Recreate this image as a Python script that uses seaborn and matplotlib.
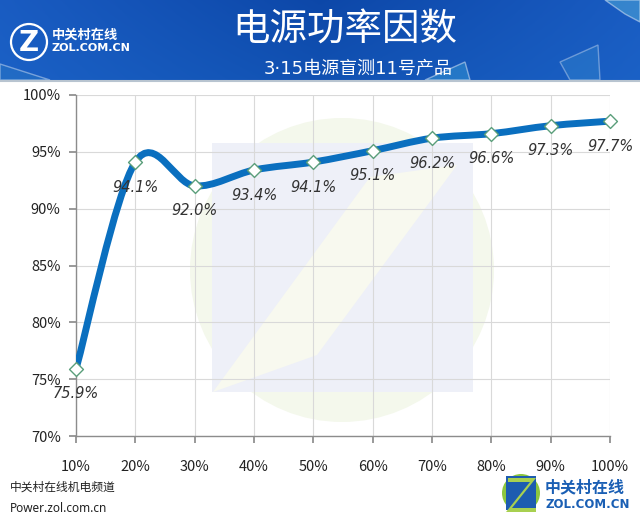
import numpy as np
import pandas as pd
import matplotlib
matplotlib.use("Agg")
import matplotlib.pyplot as plt
import seaborn as sns
from matplotlib.path import Path
from matplotlib.patches import PathPatch, Polygon, Circle, Rectangle

# ---- data ----
loads = [10, 20, 30, 40, 50, 60, 70, 80, 90, 100]
load_labels = ["10%", "20%", "30%", "40%", "50%", "60%", "70%", "80%", "90%", "100%"]
pf = [75.9, 94.1, 92.0, 93.4, 94.1, 95.1, 96.2, 96.6, 97.3, 97.7]
pf_labels = ["75.9%", "94.1%", "92.0%", "93.4%", "94.1%", "95.1%", "96.2%", "96.6%", "97.3%", "97.7%"]
y_ticks = [70, 75, 80, 85, 90, 95, 100]
y_tick_labels = ["70%", "75%", "80%", "85%", "90%", "95%", "100%"]
title = "电源功率因数"
subtitle = "3·15电源盲测11号产品"

sns.set_theme(style="white")
plt.rcParams['font.family'] = ['Noto Sans CJK SC', 'DejaVu Sans']

W, H = 640, 523
fig = plt.figure(figsize=(W / 100, H / 100), dpi=100)
fig.patch.set_facecolor("white")

def fx(px):
    return px / W

def fy(py):
    return 1 - py / H

# ---- background watermark ----
bg = fig.add_axes([0, 0, 1, 1], zorder=0)
bg.set_xlim(0, W)
bg.set_ylim(H, 0)
bg.axis("off")
bg.add_patch(Circle((342, 270), 152, facecolor="#f4f8ec", edgecolor="none"))
bg.add_patch(Rectangle((212, 143), 261, 249, facecolor="#eef0f8", edgecolor="none"))
bg.add_patch(Polygon([(370, 177), (457, 165), (317, 355), (213, 392)],
                     closed=True, facecolor="#f8f9ef", edgecolor="none"))

# ---- header banner ----
grad = np.linspace(0, 1, 256)
gx, gy = np.meshgrid(grad, np.linspace(0, 1, 64))
c1 = np.array([0.10, 0.36, 0.76])
c2 = np.array([0.05, 0.28, 0.66])
c3 = np.array([0.12, 0.44, 0.82])
t = np.abs(gx - 0.5) * 2
img = c2[None, None, :] * (1 - t[..., None]) + c1[None, None, :] * t[..., None]
img = img * (1 - 0.25 * gy[..., None]) + c3[None, None, :] * 0.25 * gy[..., None]
bg.imshow(img, extent=[0, W, 80, 0], aspect="auto", zorder=1)
bg.add_patch(Polygon([(425, 80), (465, 62), (470, 80)], closed=True, facecolor="#3aa0d8", alpha=0.45, zorder=2))
bg.add_patch(Polygon([(560, 62), (598, 45), (600, 80), (570, 80)], closed=True, facecolor="#3a8fd0", alpha=0.35, zorder=2))
bg.add_patch(Polygon([(605, 0), (640, 0), (640, 22), (625, 14)], closed=True, facecolor="#5ab8dc", alpha=0.45, zorder=2))
bg.add_patch(Polygon([(0, 64), (50, 80), (0, 80)], closed=True, facecolor="#2d7cc4", alpha=0.4, zorder=2))
bg.plot([0, W], [81, 81], color="#b8c4d0", lw=1.5, zorder=2)
# top-left logo
bg.add_patch(Circle((29, 42), 18, facecolor="none", edgecolor="white", lw=1.6, zorder=3))
bg.text(29, 43, "Z", color="white", fontsize=20, fontweight="bold", ha="center", va="center",
        family=["DejaVu Sans"], zorder=4)
bg.text(52, 35, "中关村在线", color="white", fontsize=9.5, fontweight="bold", ha="left", va="center", zorder=4)
bg.text(52, 48, "ZOL.COM.CN", color="white", fontsize=8, fontweight="bold", ha="left", va="center",
        family=["DejaVu Sans"], zorder=4)
bg.text(345, 30, title, color="white", fontsize=27, ha="center", va="center", zorder=4)
bg.text(358, 68, subtitle, color="white", fontsize=13, ha="center", va="center",
        family=["DejaVu Sans", "Noto Sans CJK SC"], zorder=4)

# ---- footer ----
bg.text(10, 487, "中关村在线机电频道", color="#222222", fontsize=8.5, ha="left", va="center")
bg.text(10, 508, "Power.zol.com.cn", color="#222222", fontsize=8.5, ha="left", va="center",
        family=["Noto Sans", "DejaVu Sans"])
bg.add_patch(Circle((521, 493), 19, facecolor="#8cc63f", edgecolor="none"))
bg.add_patch(Rectangle((506, 476), 30, 34, facecolor="#1d5cb0", edgecolor="none"))
bg.add_patch(Polygon([(508, 478), (536, 478), (512, 508), (536, 508), (536, 512), (506, 512), (530, 482), (508, 482)],
                     closed=True, facecolor="#a8d050", edgecolor="none"))
bg.text(545, 487, "中关村在线", color="#1a5fb4", fontsize=11.5, fontweight="bold", ha="left", va="center")
bg.text(545, 505, "ZOL.COM.CN", color="#1a5fb4", fontsize=8.5, fontweight="bold", ha="left", va="center",
        family=["DejaVu Sans"])

# ---- main axes ----
left, right, top, bottom = 76, 610, 95, 436
ax = fig.add_axes([fx(left), fy(bottom), (right - left) / W, (bottom - top) / H], zorder=2)
ax.patch.set_alpha(0)
ax.set_xlim(10, 100)
ax.set_ylim(70, 100)

df = pd.DataFrame({"load": loads, "pf": pf})

# smooth (Excel-like) curve through the data points using cubic Bezier segments
xs = np.array(loads, dtype=float)
ys = np.array(pf, dtype=float)
verts = [(xs[0], ys[0])]
codes = [Path.MOVETO]
n = len(xs)
for i in range(n - 1):
    p0 = np.array([xs[max(i - 1, 0)], ys[max(i - 1, 0)]])
    p1 = np.array([xs[i], ys[i]])
    p2 = np.array([xs[i + 1], ys[i + 1]])
    p3 = np.array([xs[min(i + 2, n - 1)], ys[min(i + 2, n - 1)]])
    c1p = p1 + (p2 - p0) / 6
    c2p = p2 - (p3 - p1) / 6
    verts += [tuple(c1p), tuple(c2p), tuple(p2)]
    codes += [Path.CURVE4, Path.CURVE4, Path.CURVE4]
ax.add_patch(PathPatch(Path(verts, codes), facecolor="none", edgecolor="#0a6fbf", lw=5,
                       capstyle="round", joinstyle="round", zorder=3))

sns.scatterplot(data=df, x="load", y="pf", marker="D", s=50, color="white",
                edgecolor="#5a9e7a", linewidth=1.0, ax=ax, zorder=4, clip_on=False, legend=False)

for xv, yv, lab in zip(loads, pf, pf_labels):
    ax.annotate(lab, (xv, yv), xytext=(0, -25), textcoords="offset pixels",
                ha="center", va="center", fontsize=10.5, style="italic", color="#333333",
                family=["DejaVu Sans"], zorder=5)

ax.set_xticks(loads)
ax.set_xticklabels(load_labels)
ax.set_yticks(y_ticks)
ax.set_yticklabels(y_tick_labels)
ax.set_xlabel("")
ax.set_ylabel("")
ax.grid(True, color="#d9d9d9", lw=0.8)
ax.set_axisbelow(True)
for s in ["top", "right"]:
    ax.spines[s].set_visible(False)
for s in ["left", "bottom"]:
    ax.spines[s].set_color("#8c8c8c")
    ax.spines[s].set_linewidth(1.0)
ax.tick_params(axis="x", which="both", direction="out", length=5, color="#8c8c8c",
               pad=12, labelsize=10.5, labelcolor="#222222", bottom=True)
ax.tick_params(axis="y", which="both", direction="out", length=5, color="#8c8c8c",
               pad=6, labelsize=10.5, labelcolor="#222222", left=True)

fig.savefig("out.png", dpi=100)
